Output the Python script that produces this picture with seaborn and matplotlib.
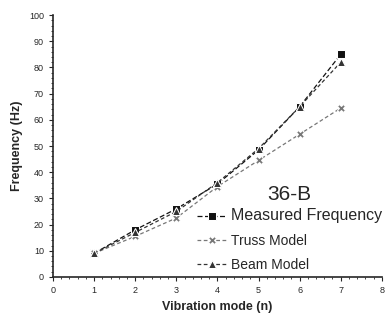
import pandas as pd
import seaborn as sns
import matplotlib.pyplot as plt
from matplotlib.ticker import MultipleLocator

# values
modes = [1, 2, 3, 4, 5, 6, 7]
measured = [9, 18, 26, 35.5, 48.5, 65, 85]
truss = [9, 15.5, 22.5, 34.5, 44.5, 54.5, 64.5]
beam = [9, 17, 25, 36, 49, 65, 82]
series = ['Measured Frequency', 'Truss Model', 'Beam Model']

rows = []
for name, vals in zip(series, [measured, truss, beam]):
    for m, v in zip(modes, vals):
        rows.append({'Mode': m, 'Frequency': v, 'Series': name})
df = pd.DataFrame(rows)

sns.set_style('ticks')
plt.rcParams['font.family'] = ['Liberation Sans', 'DejaVu Sans']

fig = plt.figure(figsize=(3.9, 3.22), dpi=100)
ax = fig.add_axes([0.136, 0.14, 0.843, 0.813])

sns.lineplot(data=df, x='Mode', y='Frequency', hue='Series', style='Series',
             palette=['#111111', '#777777', '#333333'],
             markers=['s', 'X', '^'], dashes=[(4, 2), (3, 2), (3, 2)],
             markersize=5.5, linewidth=0.9, ax=ax)

ax.set_xlim(0, 8)
ax.set_ylim(0, 100)
ax.xaxis.set_major_locator(MultipleLocator(1))
ax.yaxis.set_major_locator(MultipleLocator(10))
ax.yaxis.set_minor_locator(MultipleLocator(2))
ax.xaxis.set_minor_locator(MultipleLocator(0.2))
ax.tick_params(labelsize=6.5, length=3, width=0.8)
ax.tick_params(which='minor', length=1.5, width=0.6)
for s in ['left', 'bottom']:
    ax.spines[s].set_linewidth(1.2)
sns.despine(ax=ax)

ax.set_xlabel('Vibration mode (n)', fontsize=9, fontweight='bold')
ax.set_ylabel('Frequency (Hz)', fontsize=9, fontweight='bold')

leg = ax.legend(loc='lower right', bbox_to_anchor=(1.04, -0.03), frameon=False,
                title='36-B', fontsize=10, handlelength=2.2,
                handletextpad=0.3, labelspacing=0.75)
leg.get_title().set_fontsize(15)
leg.get_texts()[0].set_fontsize(11.5)
leg._legend_box.sep = 3

plt.savefig('out.png', dpi=100)
